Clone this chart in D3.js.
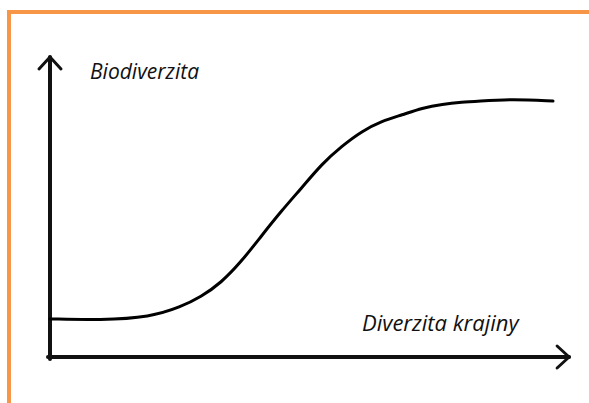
<!DOCTYPE html>
<html>
<head>
    <script src="https://cdn.jsdelivr.net/npm/d3@7/dist/d3.min.js"></script>
    <style>
        body { margin: 0; background: #ffffff; }
    </style>
</head>

<body>
<div id="chart"></div>

<script>

    // landscape diversity (x) vs biodiversity (y), 0-10 scale
    var landscapeDiversity = [0, 1.0, 2.0, 2.6, 3.0, 3.4, 3.8, 4.2, 4.6, 5.0, 5.4, 5.8, 6.2, 6.6, 7.0, 7.4, 7.8, 8.2, 8.5, 9.2, 10];
    var biodiversity = [1.27, 1.23, 1.33, 1.67, 2.0, 2.47, 3.17, 4.03, 4.87, 5.63, 6.43, 7.03, 7.53, 7.87, 8.07, 8.3, 8.43, 8.5, 8.53, 8.6, 8.53];

    var xLabel = 'Diverzita krajiny';
    var yLabel = 'Biodiverzita';

    var width = 589;
    var height = 403;

    var svg = d3.select('#chart').append('svg')
        .attr('width', width)
        .attr('height', height);

    // orange frame, runs off the right and bottom edges
    svg.append('rect')
        .attr('x', 9)
        .attr('y', 12)
        .attr('width', 620)
        .attr('height', 440)
        .attr('fill', 'none')
        .attr('stroke', '#F79646')
        .attr('stroke-width', 4);

    var x = d3.scaleLinear().domain([0, 10]).range([50, 553]);
    var y = d3.scaleLinear().domain([0, 10]).range([357, 57]);

    var xMax = 10.32;

    var axes = svg.append('g')
        .attr('fill', 'none')
        .attr('stroke', '#111')
        .attr('stroke-linecap', 'round')
        .attr('stroke-linejoin', 'round');

    // y axis with open arrow head
    axes.append('line')
        .attr('x1', x(0)).attr('y1', y(0) + 2)
        .attr('x2', x(0)).attr('y2', y(10))
        .attr('stroke-width', 4);
    axes.append('path')
        .attr('d', 'M' + (x(0) - 11) + ',' + (y(10) + 12) + 'L' + x(0) + ',' + y(10) + 'L' + (x(0) + 11) + ',' + (y(10) + 12))
        .attr('stroke-width', 3);

    // x axis with open arrow head
    axes.append('line')
        .attr('x1', x(0) - 2).attr('y1', y(0))
        .attr('x2', x(xMax)).attr('y2', y(0))
        .attr('stroke-width', 4);
    axes.append('path')
        .attr('d', 'M' + (x(xMax) - 12) + ',' + (y(0) - 11) + 'L' + x(xMax) + ',' + y(0) + 'L' + (x(xMax) - 12) + ',' + (y(0) + 11))
        .attr('stroke-width', 3);

    var line = d3.line()
        .x(function(d) { return x(d[0]); })
        .y(function(d) { return y(d[1]); })
        .curve(d3.curveBasis);

    svg.append('path')
        .datum(d3.zip(landscapeDiversity, biodiversity))
        .attr('d', line)
        .attr('fill', 'none')
        .attr('stroke', '#000')
        .attr('stroke-width', 3)
        .attr('stroke-linecap', 'round');

    svg.append('text')
        .attr('x', 90)
        .attr('y', 79)
        .attr('font-family', 'Open Sans')
        .attr('font-style', 'italic')
        .attr('font-size', 21)
        .attr('fill', '#111')
        .text(yLabel);

    svg.append('text')
        .attr('x', 362)
        .attr('y', 331)
        .attr('font-family', 'Open Sans')
        .attr('font-style', 'italic')
        .attr('font-size', 22)
        .attr('fill', '#111')
        .text(xLabel);

</script>
</body>
</html>
